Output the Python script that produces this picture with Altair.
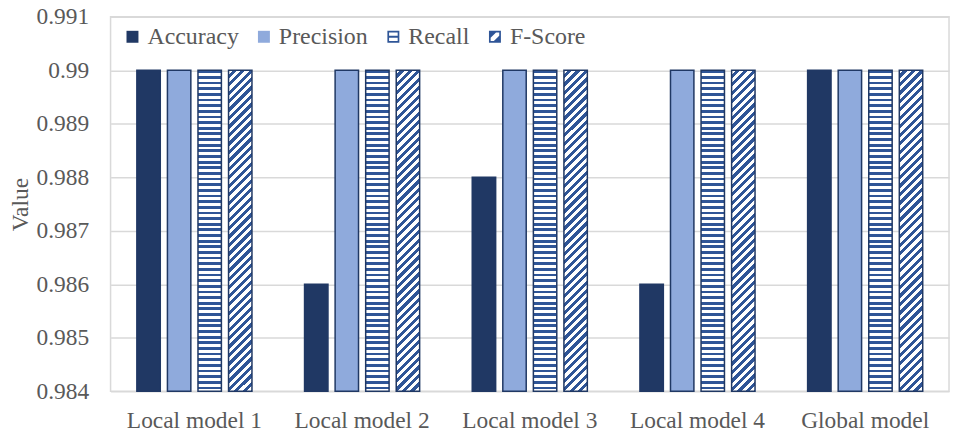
import altair as alt
import pandas as pd

# ---- data ----
models = ["Local model 1", "Local model 2", "Local model 3", "Local model 4", "Global model"]
metrics = ["Accuracy", "Precision", "Recall", "F-Score"]
accuracy = [0.990, 0.986, 0.988, 0.986, 0.990]
precision = [0.990, 0.990, 0.990, 0.990, 0.990]
recall = [0.990, 0.990, 0.990, 0.990, 0.990]
fscore = [0.990, 0.990, 0.990, 0.990, 0.990]
y_ticks = [0.984, 0.985, 0.986, 0.987, 0.988, 0.989, 0.990, 0.991]

rows = []
for metric, vals in zip(metrics, [accuracy, precision, recall, fscore]):
    for m, v in zip(models, vals):
        rows.append({"model": m, "metric": metric, "value": v})
df = pd.DataFrame(rows)

# ---- style ----
W, H = 842, 376
FONT = "Liberation Serif"
FS = 23.5
TXT = "#595959"
GRID = "#D9D9D9"
C_DARK = "#203864"
C_LIGHT = "#8FAADC"
C_MID = "#2F5597"
WHITE = "#FFFFFF"

# approximate bar box (used only to shape the hatch gradients)
BAR_W = 23.5
BAR_H = 322.3


def stripe_stops(c_a, c_b, period, frac):
    stops = []
    start = 0.0
    while start < 1.0:
        mid = min(start + period * frac, 1.0)
        end = min(start + period, 1.0)
        stops += [
            alt.GradientStop(color=c_a, offset=round(start, 5)),
            alt.GradientStop(color=c_a, offset=round(mid, 5)),
            alt.GradientStop(color=c_b, offset=round(mid, 5)),
            alt.GradientStop(color=c_b, offset=round(end, 5)),
        ]
        start += period
    return stops


# horizontal stripes
recall_fill = alt.LinearGradient(
    gradient="linear",
    x1=0, y1=0, x2=0, y2=1,
    stops=stripe_stops(C_MID, WHITE, 5.67 / BAR_H, 0.5),
)

# diagonal "/" hatch: t = (x + y) / (w + h)
r = BAR_H / BAR_W
k = (1 + r) / (1 + r * r)
fscore_fill = alt.LinearGradient(
    gradient="linear",
    x1=0, y1=0, x2=round(k, 5), y2=round(k * r, 5),
    stops=stripe_stops(WHITE, C_MID, 8.5 / (BAR_W + BAR_H), 0.5),
)

sq = "M-1,-1H1V1H-1Z"
shape_recall = sq + "M-0.72,-0.72V-0.16H0.72V-0.72ZM-0.72,0.16V0.72H0.72V0.16Z"
shape_fscore = sq + "M-0.72,0.18V0.72H-0.18L0.72,-0.18V-0.72H0.18Z"

x_enc = alt.X(
    "model:N",
    sort=models,
    scale=alt.Scale(domain=models, paddingInner=0.271, paddingOuter=0.1355),
    axis=alt.Axis(
        title=None, labelAngle=0, ticks=False, domain=False, grid=False,
        labelPadding=36, labelBaseline="alphabetic",
    ),
)
xo_enc = alt.XOffset(
    "metric:N",
    scale=alt.Scale(domain=metrics, paddingInner=0.234, paddingOuter=0.117),
)
y_enc = alt.Y(
    "value:Q",
    scale=alt.Scale(domain=[0.984, 0.991], nice=False, zero=False),
    axis=alt.Axis(
        values=y_ticks, format=".3~f", title="Value", ticks=False, domain=False,
        grid=True, labelPadding=22, titleAngle=270, titleBaseline="alphabetic",
        titleX=-83, titleY=188,
    ),
)

base = alt.Chart(df).encode(x=x_enc, xOffset=xo_enc, y=y_enc)


def bar_layer(metric, fill):
    return (
        base.transform_filter(alt.datum.metric == metric)
        .mark_bar(fill=fill, stroke=C_DARK, strokeWidth=1.5)
        .encode(y2=alt.datum(0.984))
    )


legend = alt.Legend(
    title=None, orient="none", legendX=10, legendY=8, direction="horizontal",
    labelFont=FONT, labelFontSize=24, labelColor=TXT, labelOffset=3,
    columnPadding=13, padding=0, symbolSize=144, symbolStrokeColor=C_DARK,
    symbolStrokeWidth=1.5, symbolOpacity=1,
)

legend_layer = base.mark_point(filled=True, opacity=0).encode(
    fill=alt.Fill(
        "metric:N",
        scale=alt.Scale(domain=metrics, range=[C_DARK, C_LIGHT, C_MID, C_MID]),
        legend=legend,
    ),
    shape=alt.Shape(
        "metric:N",
        scale=alt.Scale(domain=metrics, range=[sq, sq, shape_recall, shape_fscore]),
        legend=legend,
    ),
)

chart = (
    alt.layer(
        bar_layer("Accuracy", C_DARK),
        bar_layer("Precision", C_LIGHT),
        bar_layer("Recall", recall_fill),
        bar_layer("F-Score", fscore_fill),
        legend_layer,
    )
    .properties(
        width=W,
        height=H,
        autosize=alt.AutoSizeParams(type="none"),
        padding={"left": 103, "top": 8, "right": 4, "bottom": 44},
    )
    .configure_view(stroke=GRID, strokeWidth=1.5)
    .configure_axis(
        labelFont=FONT, labelFontSize=FS, labelColor=TXT,
        titleFont=FONT, titleFontSize=FS, titleColor=TXT, titleFontWeight="normal",
        gridColor=GRID, gridWidth=1.5,
    )
)

chart.save("out.html", embed_options={"renderer": "svg", "actions": False})
